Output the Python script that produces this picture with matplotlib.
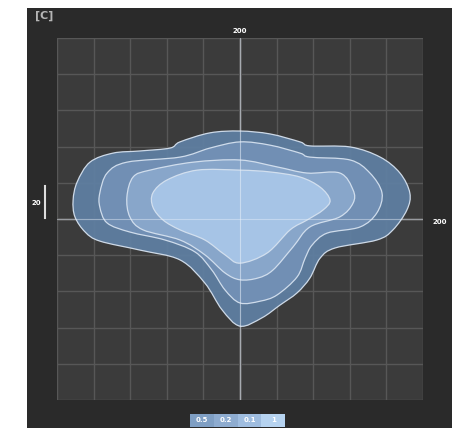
import numpy as np
import matplotlib
matplotlib.use('Agg')
import matplotlib.pyplot as plt
from matplotlib.path import Path
from matplotlib.patches import PathPatch

# contour outlines (grid units, centre = 0,0)
outer_x = [0, -0.82, -1.64, -1.91, -2.73, -3.47, -4.10, -4.45, -4.56, -4.51, -4.23, -3.83, -2.73, -1.64,
           -0.96, -0.49, 0, 0.60, 1.09, 1.56, 1.91, 2.19, 2.60, 3.74, 4.18, 4.56, 4.64, 4.37, 3.83, 3.01,
           1.91, 1.64, 0.82]
outer_y = [2.43, 2.38, 2.13, 1.96, 1.88, 1.82, 1.57, 1.02, 0.52, 0.06, -0.36, -0.61, -0.86, -1.13,
           -1.77, -2.51, -2.96, -2.73, -2.38, -2.04, -1.63, -1.08, -0.80, -0.58, -0.30, 0.25, 0.72, 1.27,
           1.71, 1.99, 2.02, 2.13, 2.35]

mid_x = [0, -0.82, -1.64, -3.09, -3.63, -3.83, -3.83, -3.63, -3.01, -2.05, -1.23, -0.77, -0.41, 0,
         0.55, 1.01, 1.56, 1.78, 1.97, 2.38, 3.28, 3.74, 3.88, 3.55, 3.01, 1.91, 1.64, 0.82]
mid_y = [2.13, 1.96, 1.71, 1.57, 1.27, 0.72, 0.33, -0.11, -0.36, -0.58, -0.91, -1.41, -1.96, -2.32,
         -2.27, -2.10, -1.60, -1.08, -0.72, -0.39, -0.22, 0.17, 0.72, 1.27, 1.63, 1.71, 1.82, 2.04]

third_x = [0, -1.28, -2.46, -2.92, -3.09, -3.01, -2.65, -1.64, -0.96, -0.41, 0, 0.49, 0.90, 1.45,
           1.91, 2.73, 3.09, 3.09, 2.73, 1.83, 1.01]
third_y = [1.63, 1.57, 1.35, 1.16, 0.61, 0.06, -0.30, -0.58, -0.99, -1.49, -1.68, -1.63, -1.41, -0.77,
           -0.22, 0.06, 0.44, 0.80, 1.27, 1.27, 1.44]

inner_x = [0, -1.17, -1.99, -2.38, -2.38, -2.10, -1.64, -0.96, -0.41, 0, 0.74, 1.37, 1.83, 2.27,
           2.46, 2.19, 1.64, 0.82]
inner_y = [1.35, 1.35, 1.08, 0.72, 0.33, -0.03, -0.30, -0.58, -0.99, -1.22, -0.94, -0.30, -0.03, 0.25,
           0.52, 0.88, 1.16, 1.30]

levels = ['0.5', '0.2', '0.1', '1']
colors = ['#5f7fa2', '#7391b6', '#8aa8cc', '#a8c7e8']


def smooth_path(xs, ys):
    # closed Catmull-Rom outline turned into cubic bezier segments
    p = np.column_stack([xs, ys])
    n = len(p)
    verts = [p[0]]
    codes = [Path.MOVETO]
    for i in range(n):
        p0, p1, p2, p3 = p[i - 1], p[i], p[(i + 1) % n], p[(i + 2) % n]
        verts += [p1 + (p2 - p0) / 6, p2 - (p3 - p1) / 6, p2]
        codes += [Path.CURVE4] * 3
    return Path(verts, codes)


fig = plt.figure(figsize=(4.72, 4.28), dpi=100)
fig.patch.set_facecolor('white')

# dark panel behind everything
bg = fig.add_axes([27 / 472, 0, 425 / 472, 420 / 428], zorder=-5)
bg.set_facecolor('#2a2a2a')
bg.set_xticks([])
bg.set_yticks([])
for s in bg.spines.values():
    s.set_visible(False)

ax = fig.add_axes([57 / 472, 1 - 400 / 428, 366 / 472, 362 / 428])
ax.set_facecolor('#3b3b3b')
ax.set_xlim(-5, 5)
ax.set_ylim(-5, 5)
ax.set_xticks(np.arange(-5, 6, 1))
ax.set_yticks(np.arange(-5, 6, 1))
ax.grid(True, color='#575757', lw=1.0)
ax.tick_params(length=0, labelbottom=False, labelleft=False)
for s in ax.spines.values():
    s.set_visible(False)
ax.axvline(0, color='#c8c8c8', lw=1, zorder=1)
ax.axhline(0, color='#b0b0b0', lw=1, zorder=1)

for xs, ys, c, z in zip([outer_x, mid_x, third_x, inner_x], [outer_y, mid_y, third_y, inner_y],
                        colors, range(2, 6)):
    ax.add_patch(PathPatch(smooth_path(xs, ys), facecolor=c, edgecolor='#d6e2f0', lw=0.9,
                           alpha=0.94, zorder=z))
ax.axvline(0, color='#e8f0fa', lw=0.8, alpha=0.55, zorder=6)
ax.axhline(0, color='#e8f0fa', lw=0.8, alpha=0.45, zorder=6)

fig.text(35 / 472, 1 - 16 / 428, '[C]', color='#b5b5b5', fontsize=8, fontweight='bold', va='center')
fig.text(240 / 472, 1 - 31 / 428, '200', color='white', fontsize=5, fontweight='bold', ha='center', va='center')
fig.text(440 / 472, 1 - 222 / 428, '200', color='white', fontsize=5, fontweight='bold', ha='center', va='center')
fig.text(36 / 472, 1 - 203 / 428, '20', color='white', fontsize=5, fontweight='bold', ha='center', va='center')
fig.add_artist(plt.Line2D([45 / 472, 45 / 472], [1 - 186 / 428, 1 - 218 / 428], color='#dddddd', lw=1.5))

# level key
lax = fig.add_axes([190 / 472, 1 / 428, 95 / 472, 13 / 428])
key_colors = ['#7f9fc4', '#8eacd0', '#9fbde0', '#b6d3f0']
lax.bar(range(len(levels)), [1] * len(levels), width=1.0, color=key_colors)
for i, lab in enumerate(levels):
    lax.text(i, 0.5, lab, color='white', fontsize=5, fontweight='bold', ha='center', va='center')
lax.set_xlim(-0.5, len(levels) - 0.5)
lax.set_ylim(0, 1)
lax.axis('off')

fig.savefig('out.png', dpi=100, facecolor='white')
